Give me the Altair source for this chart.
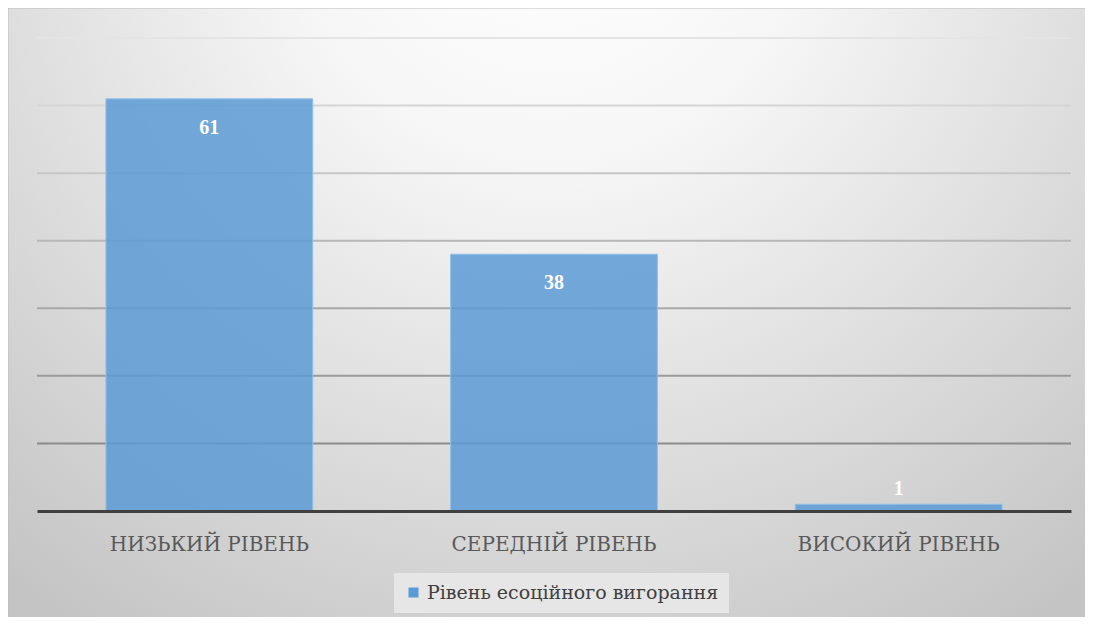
import altair as alt
import pandas as pd

categories = ["НИЗЬКИЙ РІВЕНЬ", "СЕРЕДНІЙ РІВЕНЬ", "ВИСОКИЙ РІВЕНЬ"]
values = [61, 38, 1]
series_name = "Рівень есоційного вигорання"
grid_values = [10, 20, 30, 40, 50, 60, 70]

df = pd.DataFrame({"cat": categories, "val": values, "series": [series_name] * len(categories)})
grid_df = pd.DataFrame({"g": grid_values})

W, H = 1034, 473
SERIF = "DejaVu Serif"
NUM_FONT = "Liberation Serif"
BLUE = "#5b9bd5"

y_scale = alt.Scale(domain=[0, 70], nice=False, zero=True)
x_enc = alt.X(
    "cat:N",
    sort=categories,
    title=None,
    scale=alt.Scale(paddingInner=0.4, paddingOuter=0.2),
    axis=alt.Axis(
        labelAngle=0, labelFont=SERIF, labelFontSize=20, labelColor="#595959",
        labelPadding=23, ticks=False, domainColor="#404040", domainWidth=3,
        grid=False, zindex=2, labelLimit=400,
    ),
)

bg = alt.Chart(alt.Data(values=[{"a": 1}])).mark_rect(
    fill={
        "gradient": "radial",
        "x1": 0.5, "y1": 0.12, "r1": 0,
        "x2": 0.5, "y2": 0.12, "r2": 0.8,
        "stops": [
            {"offset": 0, "color": "#ffffff"},
            {"offset": 0.3, "color": "#f6f6f6"},
            {"offset": 1, "color": "#c4c4c4"},
        ],
    },
    stroke="#bdbdbd",
    strokeWidth=1,
).encode(
    x=alt.value(-29), x2=alt.value(W + 20), y=alt.value(-30), y2=alt.value(H + 110)
)

grid = alt.Chart(grid_df).mark_rule(strokeWidth=2).encode(
    y=alt.Y("g:Q", scale=y_scale, axis=None),
    stroke=alt.Stroke("g:Q", scale=alt.Scale(domain=[10, 70], range=["#8c8c8c", "#e4e4e4"]), legend=None),
)

bars = alt.Chart(df).mark_bar(fillOpacity=0.85, stroke="#94bfe6", strokeWidth=1).encode(
    x=x_enc,
    y=alt.Y("val:Q", scale=y_scale, axis=None),
    color=alt.Color(
        "series:N",
        scale=alt.Scale(range=[BLUE]),
        legend=alt.Legend(
            title=None, orient="none", legendX=357, legendY=535,
            symbolType="square", symbolSize=100, symbolStrokeWidth=0,
            labelFont=SERIF, labelFontSize=19, labelColor="#404040", labelOffset=4,
            labelLimit=500, fillColor="#e6e6e6", padding=10, zindex=2,
        ),
    ),
)

text_in = alt.Chart(df).transform_filter("datum.val >= 5").mark_text(
    font=NUM_FONT, fontSize=20, fontWeight="bold", color="white", baseline="middle", dy=29
).encode(x=x_enc, y=alt.Y("val:Q", scale=y_scale), text="val:Q")

text_out = alt.Chart(df).transform_filter("datum.val < 5").mark_text(
    font=NUM_FONT, fontSize=20, fontWeight="bold", color="white", baseline="middle", dy=-15
).encode(x=x_enc, y=alt.Y("val:Q", scale=y_scale), text="val:Q")

chart = alt.layer(bg, grid, bars, text_in, text_out).properties(
    width=W, height=H,
    padding={"left": 29, "top": 30, "right": 14, "bottom": 106},
    autosize=alt.AutoSizeParams(type="none"),
    background="white",
).configure_view(stroke=None)

chart.save("out.html", embed_options={"renderer": "svg", "actions": False})
